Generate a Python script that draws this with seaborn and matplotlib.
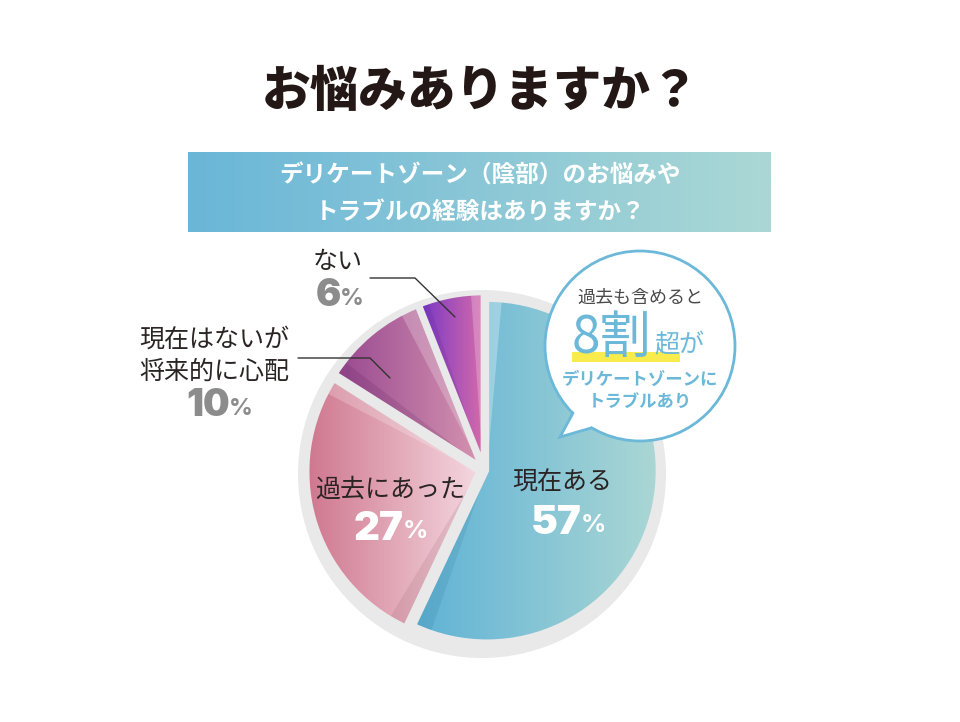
import numpy as np
import matplotlib
matplotlib.use("Agg")
import matplotlib.pyplot as plt
from matplotlib.patches import Rectangle, Circle, Wedge, Polygon
import seaborn as sns

# ---------------- data ----------------
title = "お悩みありますか？"
question = "デリケートゾーン（陰部）のお悩みや\nトラブルの経験はありますか？"
categories = ["現在ある", "過去にあった", "現在はないが\n将来的に心配", "ない"]
values = [57, 27, 10, 6]
pct_labels = ["57", "27", "10", "6"]
bubble_lines = ["過去も含めると", "8割", "超が", "デリケートゾーンに\nトラブルあり"]

# gradient colours (left -> right) per slice
grad_colors = [("#5FB2D6", "#ABD7D4"),
               ("#CF778E", "#F4D7DF"),
               ("#984890", "#D594B0"),
               ("#7838C6", "#D46AAA")]

sns.set_theme(style="white")
plt.rcParams['font.family'] = ['Noto Sans CJK JP', 'DejaVu Sans']

W, H = 960, 722
fig = plt.figure(figsize=(9.6, 7.22), dpi=100)
ax = fig.add_axes([0, 0, 1, 1])

NUMFONT = ["Inter", "Lato", "DejaVu Sans"]

def Y(y):
    return H - y

def hgrad(c1, c2, n=256):
    pal = sns.blend_palette([c1, c2], n_colors=n)
    return np.array(pal)[None, :, :]

def pct(x, y, num, color, size, psize):
    ax.text(x, Y(y), num, ha="right", va="center", fontsize=size,
            fontweight="black", family=NUMFONT, color=color, zorder=6)
    ax.text(x - 1, Y(y + 3), "%", ha="left", va="center", fontsize=psize,
            fontweight="bold", family=NUMFONT, color=color, zorder=6)

# ---------------- title ----------------
ax.text(481, Y(92), title, ha="center", va="center", fontsize=35,
        fontweight="heavy", color="#231815")

# ---------------- banner ----------------
bx0, bx1, by0, by1 = 188, 771, 152, 232
ax.imshow(hgrad("#6AB6D8", "#ABD8D5"), extent=[bx0, bx1, Y(by1), Y(by0)],
          aspect="auto", interpolation="bilinear", zorder=1)
ax.text(480, Y(176), question.split("\n")[0], ha="center", va="center",
        fontsize=17, fontweight="bold", color="white", zorder=3)
ax.text(480, Y(212), question.split("\n")[1], ha="center", va="center",
        fontsize=17, fontweight="bold", color="white", zorder=3)

# ---------------- pie ----------------
ring_c = (482, Y(474))
ax.add_patch(Circle(ring_c, 184, facecolor="#E9E9E9", edgecolor="none", zorder=1))

pie_c = (484, Y(470))
R = 171
wedges, _ = ax.pie(values, startangle=90, counterclock=False, radius=R,
                   center=pie_c, explode=[3, 6, 6, 6],
                   wedgeprops=dict(edgecolor="#E9E9E9", linewidth=3.2),
                   frame=True)

for w, (c1, c2) in zip(wedges, grad_colors):
    cx, cy = w.center
    th = np.radians(np.linspace(w.theta1, w.theta2, 100))
    xs = np.concatenate([[cx], cx + w.r * np.cos(th)])
    ys = np.concatenate([[cy], cy + w.r * np.sin(th)])
    w.set_facecolor("none")
    w.set_zorder(3)
    im = ax.imshow(hgrad(c1, c2), extent=[xs.min(), xs.max(), ys.min(), ys.max()],
                   aspect="auto", interpolation="bilinear", zorder=2)
    im.set_clip_path(w)

# subtle light/dark bands (facet effect)
bands = [  # (wedge index, at theta2?, colour, alpha, width deg)
    (0, True, "white", 0.28, 5),
    (0, False, "#1B5F80", 0.12, 6),
    (1, False, "white", 0.22, 5),
    (1, True, "#7A4050", 0.12, 6),
    (2, False, "white", 0.22, 6),
    (2, True, "#3A0A40", 0.12, 5),
    (3, False, "white", 0.22, 4),
    (3, True, "#3A0A60", 0.10, 3),
]
for i, at_end, col, a, wd in bands:
    w = wedges[i]
    if at_end:
        t1, t2 = w.theta2 - wd, w.theta2
    else:
        t1, t2 = w.theta1, w.theta1 + wd
    ax.add_patch(Wedge(w.center, w.r - 1.5, t1, t2, facecolor=col, alpha=a,
                       edgecolor="none", zorder=2.5))

# ---------------- slice labels ----------------
dark = "#2B2424"
grey = "#8C8C8C"
ax.text(562, Y(483), categories[0], ha="center", va="center", fontsize=18, color=dark, zorder=6)
pct(582, 523, pct_labels[0], "white", 29, 18)

ax.text(390, Y(490), categories[1], ha="center", va="center", fontsize=18, color=dark, zorder=6)
pct(404, 529, pct_labels[1], "white", 29, 18)

l1, l2 = categories[2].split("\n")
ax.text(214, Y(340), l1, ha="center", va="center", fontsize=18, color=dark, zorder=6)
ax.text(214, Y(372), l2, ha="center", va="center", fontsize=18, color=dark, zorder=6)
pct(230, 406, pct_labels[2], grey, 27, 17)

ax.text(338, Y(262), categories[3], ha="center", va="center", fontsize=18, color=dark, zorder=6)
pct(341, 296, pct_labels[3], grey, 27, 17)

# leader lines
ax.plot([370, 415, 455], [Y(278), Y(278), Y(317)], color="#333333", lw=1, zorder=6)
ax.plot([298, 370, 390], [Y(358), Y(358), Y(378)], color="#333333", lw=1, zorder=6)

# ---------------- speech bubble ----------------
blue = "#6BB8D9"
bc = (640, Y(346))
br = 95
ax.add_patch(Circle(bc, br, facecolor="white", edgecolor=blue, lw=2, zorder=7))
b1 = (573, Y(413)); tip = (560, Y(437)); b2 = (591, Y(428))
ax.add_patch(Polygon([b1, tip, b2, (592, Y(418)), (578, Y(406))], closed=True,
                     facecolor="white", edgecolor="none", zorder=8))
ax.plot([b1[0], tip[0], b2[0]], [b1[1], tip[1], b2[1]], color=blue, lw=2,
        zorder=9, solid_joinstyle="miter")

ax.text(640, Y(298), bubble_lines[0], ha="center", va="center", fontsize=13,
        color="#4A4A4A", zorder=10)
ax.add_patch(Rectangle((572, Y(362)), 108, 10, facecolor="#F9EB4B", edgecolor="none", zorder=9))
ax.text(652, Y(353), bubble_lines[1], ha="right", va="baseline", fontsize=37,
        color=blue, zorder=10)
ax.text(654, Y(352), bubble_lines[2], ha="left", va="baseline", fontsize=18,
        color=blue, zorder=10)
bl3, bl4 = bubble_lines[3].split("\n")
ax.text(640, Y(380), bl3, ha="center", va="center", fontsize=12.5,
        fontweight="bold", color=blue, zorder=10)
ax.text(640, Y(402), bl4, ha="center", va="center", fontsize=12.5,
        fontweight="bold", color=blue, zorder=10)

ax.set_xlim(0, W)
ax.set_ylim(0, H)
ax.set_aspect("auto")
ax.axis("off")
fig.savefig("out.png", dpi=100, facecolor="white")
